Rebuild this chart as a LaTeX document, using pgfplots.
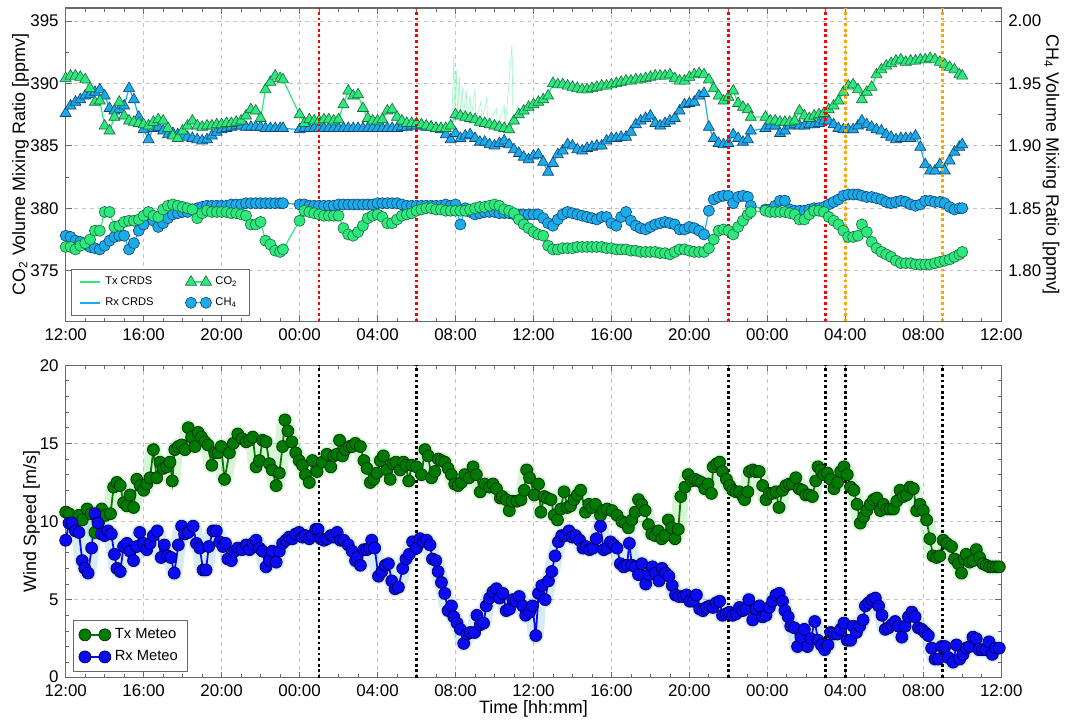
\documentclass[border=0pt]{standalone}
\usepackage{pgfplots}
\pgfplotsset{compat=1.18}
\usepackage{pgfplotstable}
\usepackage{fontspec}
\setmainfont{Liberation Sans}

\definecolor{txfill}{RGB}{45,232,125}
\definecolor{txedge}{RGB}{25,105,60}
\definecolor{rxfill}{RGB}{25,172,232}
\definecolor{rxedge}{RGB}{15,65,115}
\definecolor{mgfill}{RGB}{0,122,0}
\definecolor{mgedge}{RGB}{0,55,0}
\definecolor{mbfill}{RGB}{10,10,245}
\definecolor{mbedge}{RGB}{0,0,100}
\definecolor{noisegreen}{RGB}{120,225,120}
\definecolor{noiseblue}{RGB}{135,195,225}
\definecolor{gridgray}{RGB}{195,195,195}
\definecolor{framegray}{RGB}{105,105,105}
\definecolor{evorange}{RGB}{255,165,0}

% CRDS means, t = hours after 12:00 of day 1
\pgfplotstableread{
t txco2 rxco2 txch4 rxch4
0.00 390.4 387.6 1.819 1.828
0.25 390.6 388.2 1.819 1.827
0.50 390.6 388.5 1.817 1.824
0.75 390.5 388.7 1.820 1.823
1.00 390.3 389.0 1.822 1.821
1.25 389.6 389.1 1.825 1.819
1.50 388.5 389.3 1.832 1.818
1.75 388.6 389.5 1.832 1.817
2.00 386.6 389.0 1.847 1.820
2.25 386.2 388.0 1.847 1.824
2.50 387.3 387.8 1.835 1.827
2.75 388.5 387.9 1.836 1.828
3.00 387.4 388.2 1.839 1.828
3.25 387.0 389.6 1.840 1.817
3.50 386.9 388.7 1.840 1.822
3.75 386.8 387.3 1.841 1.832
4.00 386.7 386.3 1.844 1.837
4.25 386.6 385.5 1.847 1.845
4.50 386.9 386.4 1.844 1.840
4.75 387.1 386.5 1.843 1.835
5.00 387.0 386.2 1.849 1.838
5.25 386.4 385.9 1.852 1.842
5.50 385.8 386.0 1.853 1.845
5.75 385.6 385.9 1.852 1.846
6.00 386.2 385.8 1.851 1.847
6.25 386.6 385.7 1.850 1.847
6.50 387.0 385.6 1.849 1.849
6.75 386.6 385.5 1.842 1.850
7.00 386.5 385.4 1.846 1.851
7.25 386.6 385.5 1.848 1.852
7.50 386.6 385.8 1.847 1.852
7.75 386.7 386.1 1.847 1.852
8.00 386.7 386.3 1.847 1.852
8.25 386.8 386.4 1.847 1.852
8.50 386.8 386.5 1.846 1.853
8.75 386.9 386.6 1.846 1.853
9.00 387.0 386.6 1.845 1.853
9.25 387.4 386.5 1.844 1.854
9.50 387.9 386.5 1.837 1.854
9.75 387.8 386.5 1.837 1.854
10.00 387.2 386.5 1.839 1.854
10.25 389.5 386.4 1.824 1.854
10.50 390.1 386.4 1.821 1.854
10.75 390.6 386.4 1.816 1.854
11.00 390.4 386.4 1.815 1.854
11.15 390.3 386.4 1.817 1.854
12.00 387.5 386.3 1.840 1.853
12.25 386.8 386.4 1.848 1.853
12.50 387.1 386.4 1.847 1.852
12.75 387.0 386.4 1.846 1.852
13.00 387.0 386.4 1.845 1.852
13.25 387.1 386.4 1.844 1.852
13.50 387.1 386.4 1.844 1.852
13.75 387.0 386.4 1.844 1.852
14.00 387.1 386.4 1.844 1.853
14.25 388.3 386.4 1.834 1.853
14.50 389.4 386.4 1.829 1.853
14.75 389.0 386.4 1.828 1.853
15.00 389.1 386.4 1.831 1.853
15.25 388.0 386.4 1.836 1.853
15.50 387.2 386.4 1.842 1.853
15.75 387.0 386.4 1.844 1.853
16.00 387.0 386.4 1.845 1.854
16.25 387.1 386.4 1.843 1.854
16.50 387.8 386.4 1.838 1.854
16.75 387.9 386.4 1.838 1.854
17.00 387.3 386.4 1.841 1.854
17.25 387.0 386.5 1.844 1.853
17.50 386.8 386.5 1.845 1.852
17.75 386.8 386.6 1.846 1.852
18.00 386.8 386.6 1.848 1.852
18.25 386.7 386.6 1.849 1.852
18.50 386.6 386.5 1.850 1.852
18.75 386.5 386.5 1.850 1.852
19.00 386.4 386.4 1.849 1.852
19.25 386.4 386.3 1.849 1.852
19.50 386.4 385.9 1.848 1.853
19.75 386.6 385.5 1.848 1.852
20.00 387.5 386.0 1.848 1.853
20.25 387.4 385.6 1.848 1.837
20.50 387.3 385.8 1.848 1.850
20.75 387.2 385.9 1.849 1.847
21.00 387.1 385.6 1.850 1.845
21.25 386.9 385.3 1.851 1.846
21.50 386.8 385.3 1.851 1.847
21.75 386.7 385.1 1.852 1.847
22.00 386.6 385.0 1.853 1.847
22.25 386.5 385.2 1.852 1.846
22.50 386.4 385.4 1.849 1.846
22.75 386.3 385.1 1.848 1.846
23.00 387.0 384.7 1.846 1.845
23.25 387.5 384.4 1.841 1.845
23.50 387.8 384.1 1.837 1.845
23.75 388.1 383.9 1.834 1.845
24.00 388.3 384.2 1.831 1.845
24.25 388.5 384.3 1.829 1.845
24.50 388.7 383.7 1.828 1.842
24.75 389.0 382.9 1.820 1.838
25.00 390.0 383.6 1.817 1.836
25.25 389.9 384.3 1.817 1.841
25.50 389.9 384.6 1.818 1.845
25.75 389.8 385.1 1.818 1.847
26.00 389.7 385.0 1.818 1.846
26.25 389.6 384.7 1.819 1.845
26.50 389.5 384.6 1.819 1.844
26.75 389.5 384.8 1.819 1.843
27.00 389.6 384.9 1.819 1.842
27.25 389.7 385.0 1.819 1.841
27.50 389.8 385.0 1.819 1.843
27.75 389.8 385.4 1.818 1.843
28.00 389.9 385.6 1.818 1.838
28.25 390.0 385.6 1.817 1.836
28.50 390.1 385.7 1.817 1.843
28.75 390.2 385.7 1.817 1.847
29.00 390.2 386.1 1.816 1.840
29.25 390.3 386.7 1.816 1.836
29.50 390.3 387.0 1.815 1.834
29.75 390.4 387.2 1.815 1.833
30.00 390.5 387.4 1.815 1.835
30.25 390.6 386.8 1.815 1.837
30.50 390.6 386.6 1.814 1.838
30.75 390.6 386.8 1.814 1.839
31.00 390.7 387.0 1.813 1.838
31.25 390.4 387.2 1.815 1.837
31.50 390.2 387.8 1.817 1.833
31.75 390.2 388.3 1.817 1.833
32.00 390.5 388.4 1.816 1.835
32.25 390.7 388.5 1.815 1.834
32.50 390.8 389.0 1.815 1.832
32.75 390.7 389.2 1.815 1.829
33.00 390.3 386.5 1.818 1.848
33.25 389.6 385.6 1.825 1.857
33.50 389.0 385.2 1.832 1.859
33.75 388.6 385.1 1.833 1.860
34.00 388.9 385.2 1.832 1.860
34.25 389.4 385.9 1.829 1.854
34.50 388.4 385.6 1.835 1.859
34.75 388.1 385.3 1.840 1.860
35.00 387.9 385.5 1.845 1.859
35.15 387.3 386.2 1.847 1.852
35.90 387.3 386.4 1.848 1.849
36.15 387.0 386.6 1.847 1.849
36.40 387.0 386.6 1.847 1.852
36.65 386.9 386.0 1.847 1.856
36.90 386.9 386.2 1.847 1.856
37.15 386.9 386.6 1.846 1.849
37.40 387.0 386.7 1.845 1.848
37.65 387.8 386.6 1.841 1.848
37.90 387.4 386.6 1.841 1.848
38.15 387.2 386.7 1.845 1.849
38.40 387.4 386.7 1.848 1.850
38.65 387.5 386.8 1.848 1.850
38.90 387.6 387.0 1.847 1.851
39.15 387.9 387.0 1.843 1.853
39.40 388.2 386.7 1.840 1.855
39.65 388.6 386.4 1.837 1.857
39.90 389.3 386.3 1.832 1.860
40.15 389.8 386.3 1.827 1.861
40.40 389.9 386.3 1.827 1.861
40.65 389.5 386.6 1.828 1.861
40.85 388.7 387.0 1.837 1.860
41.10 389.3 386.7 1.831 1.859
41.35 389.7 386.5 1.823 1.859
41.60 390.7 386.3 1.818 1.858
41.85 391.1 386.2 1.815 1.857
42.10 391.4 385.9 1.813 1.855
42.35 391.6 385.7 1.811 1.854
42.60 391.8 385.5 1.808 1.855
42.85 391.9 385.6 1.806 1.856
43.10 391.7 385.6 1.806 1.855
43.35 391.8 385.6 1.806 1.853
43.60 391.8 385.8 1.805 1.852
43.85 391.9 384.9 1.805 1.853
44.10 391.9 383.5 1.805 1.856
44.35 392.0 383.0 1.805 1.856
44.60 391.9 383.0 1.806 1.855
44.85 391.7 383.5 1.807 1.855
45.10 391.5 383.0 1.808 1.854
45.35 391.3 383.8 1.809 1.851
45.60 391.1 384.5 1.811 1.849
45.85 390.7 384.9 1.813 1.850
46.00 390.6 385.1 1.815 1.850
}\crds

% raw Tx CO2 spikes
\pgfplotstableread{
t co2
19.80 386.4
19.92 392.3
19.96 387.5
20.05 391.0
20.10 387.5
20.20 390.5
20.25 387.4
20.35 389.8
20.40 387.3
20.55 389.5
20.60 387.3
20.75 389.0
20.80 387.2
21.00 389.5
21.05 387.1
21.30 388.5
21.35 386.9
21.60 388.8
21.65 386.7
22.10 388.0
22.15 386.6
22.50 388.2
22.55 386.4
22.90 393.1
22.95 387.0
23.20 388.2
23.30 387.5
}\txraw

\pgfplotstableread{
t ws
0.00 10.6
0.17 10.5
0.35 9.8
0.50 9.5
0.68 10.4
0.85 10.1
1.10 10.8
1.30 10.5
1.50 9.3
1.70 10.0
1.85 10.8
2.05 10.4
2.30 10.5
2.46 12.2
2.63 12.5
2.80 12.3
2.97 11.2
3.14 11.0
3.30 11.7
3.48 10.9
3.65 12.7
3.82 12.3
4.00 12.0
4.16 12.4
4.33 12.8
4.50 14.6
4.67 12.8
4.84 13.8
5.00 13.4
5.18 13.5
5.35 13.8
5.47 12.6
5.60 14.6
5.78 14.8
5.95 14.9
6.12 14.6
6.29 16.0
6.46 15.4
6.63 14.8
6.80 15.7
6.97 15.4
7.14 15.1
7.30 14.9
7.50 13.6
7.65 14.4
7.82 14.4
7.98 14.8
8.15 12.7
8.40 14.4
8.60 15.0
8.83 15.6
9.05 15.3
9.26 15.1
9.43 15.2
9.60 15.4
9.77 13.5
9.94 13.9
10.10 15.2
10.28 15.1
10.45 13.7
10.60 13.3
10.80 12.3
10.96 13.1
11.13 14.8
11.25 16.5
11.40 15.8
11.60 15.1
11.80 14.4
11.98 13.9
12.15 13.6
12.30 13.0
12.50 12.5
12.66 13.9
12.90 13.2
13.17 13.8
13.40 14.3
13.60 13.5
13.75 14.2
13.90 14.3
14.05 15.2
14.20 14.2
14.35 14.6
14.55 14.8
14.70 14.8
14.86 15.0
15.12 14.8
15.30 13.9
15.46 13.4
15.63 12.5
15.80 12.7
15.97 13.1
16.14 13.9
16.30 14.2
16.48 13.3
16.65 12.7
16.78 13.7
16.95 13.8
17.16 13.3
17.33 13.8
17.45 13.6
17.60 12.6
17.75 13.6
18.00 13.5
18.26 13.0
18.43 14.6
18.60 14.2
18.77 12.8
18.94 13.2
19.11 14.0
19.28 13.9
19.45 13.8
19.62 13.4
19.79 13.0
19.96 12.4
20.13 12.3
20.30 12.5
20.47 13.0
20.70 12.8
20.90 13.5
21.07 13.0
21.27 11.9
21.50 12.4
21.75 12.2
21.92 12.4
22.10 12.1
22.30 11.5
22.40 11.6
22.60 11.4
22.76 10.7
22.90 11.3
23.15 11.3
23.36 11.4
23.53 12.0
23.65 13.3
23.80 12.8
24.04 11.7
24.26 12.4
24.38 10.6
24.55 11.6
24.70 11.5
24.90 11.4
25.06 10.4
25.23 10.1
25.40 10.8
25.57 11.9
25.74 10.9
25.90 11.0
26.08 11.4
26.25 11.7
26.42 12.0
26.67 10.6
26.84 11.1
27.00 10.9
27.18 11.1
27.44 10.4
27.60 10.7
27.78 10.8
28.03 10.7
28.29 10.4
28.54 10.0
28.70 9.9
28.87 9.6
29.05 10.1
29.22 10.6
29.39 11.4
29.56 11.1
29.73 10.7
29.90 9.8
30.07 9.2
30.24 9.1
30.41 9.4
30.58 8.9
30.75 9.1
30.92 10.1
31.09 9.6
31.26 8.9
31.43 9.5
31.56 11.6
31.77 12.2
31.94 13.0
32.11 12.6
32.28 12.7
32.45 12.6
32.62 12.5
32.79 12.1
32.96 12.4
33.13 11.8
33.22 13.5
33.40 13.7
33.55 13.8
33.70 13.2
33.90 12.7
34.06 12.3
34.23 12.0
34.40 11.9
34.57 11.9
34.75 11.6
34.83 11.4
35.00 11.9
35.08 13.2
35.25 13.3
35.40 13.2
35.58 13.2
35.76 12.3
35.93 11.4
36.10 11.8
36.27 11.8
36.44 11.9
36.60 10.9
36.78 12.0
36.95 12.3
37.12 12.4
37.29 12.4
37.46 12.8
37.63 12.1
37.80 12.0
37.97 11.7
38.14 11.7
38.31 11.6
38.48 12.6
38.60 13.5
38.74 13.3
38.90 13.0
39.08 13.1
39.25 12.7
39.42 12.1
39.60 12.5
39.76 13.2
39.93 13.5
40.10 13.0
40.27 12.2
40.44 12.0
40.60 11.1
40.77 9.9
40.94 10.3
41.10 10.7
41.28 11.1
41.45 11.4
41.62 11.5
41.80 10.7
41.96 11.1
42.13 10.8
42.30 10.8
42.47 10.8
42.64 11.3
42.81 12.0
42.98 11.6
43.15 11.7
43.32 12.2
43.49 12.1
43.66 10.7
43.83 11.1
44.00 10.7
44.17 10.1
44.34 8.9
44.50 7.8
44.68 7.7
44.85 7.8
45.02 8.8
45.20 8.6
45.45 8.4
45.60 7.6
45.80 7.3
45.96 6.7
46.10 7.6
46.20 7.9
46.38 7.4
46.55 7.5
46.72 8.2
46.89 7.7
47.06 7.3
47.23 7.2
47.40 7.1
47.57 7.1
47.74 7.1
47.90 7.1
}\txmet

\pgfplotstableread{
t ws
0.00 8.8
0.17 9.9
0.33 9.9
0.50 9.4
0.68 9.3
0.85 7.5
0.98 7.0
1.15 6.7
1.33 8.3
1.50 10.5
1.66 9.9
1.83 9.2
2.00 9.1
2.17 9.4
2.34 9.2
2.50 7.9
2.63 7.0
2.80 6.8
2.97 8.4
3.14 8.6
3.30 8.1
3.48 7.5
3.65 8.4
3.80 9.3
4.00 8.6
4.16 8.2
4.33 8.6
4.50 9.1
4.70 9.4
4.90 7.7
5.06 8.5
5.23 7.8
5.40 7.7
5.57 6.7
5.78 8.5
5.95 9.7
6.10 9.2
6.29 9.3
6.54 9.7
6.71 8.6
6.88 8.3
7.05 6.9
7.20 6.9
7.34 8.4
7.56 9.4
7.73 9.4
7.90 8.7
8.07 8.4
8.20 8.6
8.32 7.6
8.50 7.5
8.66 8.1
8.83 8.3
9.04 8.2
9.26 8.5
9.43 8.2
9.60 8.6
9.77 8.8
9.94 8.3
10.10 8.1
10.28 7.1
10.45 7.5
10.60 8.1
10.80 7.4
10.96 8.1
11.13 8.6
11.30 8.8
11.47 9.0
11.64 8.9
11.80 9.2
11.98 9.3
12.15 9.0
12.30 9.1
12.50 8.9
12.66 9.1
12.83 9.5
12.95 9.5
13.08 8.9
13.25 8.8
13.42 8.9
13.60 9.1
13.76 9.0
13.93 9.3
14.10 8.8
14.27 8.8
14.50 8.5
14.70 8.1
14.87 7.5
14.95 7.7
15.12 7.2
15.30 8.2
15.45 8.2
15.60 8.3
15.70 8.8
15.85 8.3
16.05 6.5
16.22 6.8
16.40 7.2
16.56 7.3
16.73 6.2
16.90 5.7
17.07 5.8
17.29 7.0
17.46 7.6
17.63 7.9
17.80 8.7
18.00 8.3
18.18 8.9
18.35 8.7
18.52 8.8
18.69 8.5
18.82 7.6
18.99 7.5
19.11 6.8
19.28 6.1
19.45 5.4
19.62 4.3
19.79 4.6
19.91 3.9
20.08 3.5
20.25 3.1
20.42 2.2
20.59 2.8
20.76 2.9
20.98 2.9
21.10 4.0
21.27 3.4
21.44 3.5
21.58 4.6
21.75 5.1
21.92 5.5
22.10 5.7
22.26 5.1
22.43 5.4
22.60 4.3
22.77 4.4
22.94 5.0
23.10 4.9
23.27 5.2
23.45 4.6
23.60 4.0
23.80 4.2
23.95 4.6
24.12 2.7
24.26 5.4
24.43 5.9
24.60 5.0
24.77 6.2
24.94 6.8
25.11 7.8
25.28 8.7
25.45 9.1
25.62 9.1
25.82 9.4
25.99 9.0
26.16 9.1
26.37 8.8
26.54 8.3
26.70 8.4
26.88 8.2
27.05 8.3
27.22 8.9
27.44 9.7
27.60 8.2
27.78 8.3
27.95 8.7
28.12 8.5
28.29 8.3
28.46 7.3
28.63 7.1
28.80 7.2
28.92 8.6
29.05 7.2
29.22 7.1
29.39 6.6
29.56 7.3
29.76 6.0
29.93 6.6
30.10 7.1
30.27 6.7
30.44 6.2
30.60 7.0
30.78 6.7
30.95 6.5
31.12 5.9
31.29 5.3
31.46 5.2
31.68 5.2
31.85 5.3
32.02 4.9
32.19 4.9
32.36 5.3
32.53 4.4
32.70 4.3
32.87 4.5
33.04 4.6
33.21 4.5
33.38 4.8
33.55 4.9
33.70 4.0
33.90 4.1
34.06 4.2
34.23 4.0
34.40 4.1
34.57 4.5
34.74 4.3
34.91 4.4
35.05 5.0
35.25 3.7
35.42 4.4
35.59 4.6
35.76 3.9
35.93 4.0
36.10 4.5
36.27 4.9
36.44 5.3
36.61 5.4
36.78 4.9
36.90 4.3
37.07 3.9
37.20 3.3
37.38 3.2
37.55 2.0
37.72 2.6
37.90 3.1
38.06 2.0
38.23 2.5
38.43 3.6
38.60 2.4
38.77 2.1
38.94 1.8
39.11 2.1
39.25 2.9
39.42 2.8
39.59 2.8
39.76 3.1
39.93 3.5
40.10 2.4
40.27 2.4
40.40 3.3
40.57 2.9
40.74 3.3
40.91 3.7
41.03 4.6
41.20 4.8
41.37 5.0
41.54 5.1
41.71 4.6
41.88 4.0
42.05 3.1
42.22 3.2
42.39 3.4
42.56 3.6
42.73 3.3
42.90 2.6
43.07 3.3
43.24 3.9
43.41 4.2
43.58 3.9
43.75 3.2
43.92 3.1
44.09 2.9
44.26 2.7
44.43 1.9
44.60 1.2
44.77 1.2
44.94 2.0
45.11 2.0
45.28 1.3
45.53 1.0
45.70 2.1
45.87 1.2
46.04 1.5
46.21 1.9
46.38 2.0
46.55 2.6
46.72 2.5
46.86 1.8
47.03 1.8
47.20 1.8
47.37 2.3
47.54 1.5
47.71 1.9
47.90 1.9
}\rxmet

\pgfplotsset{
  panel/.style={
    scale only axis, width=470pt,
    xmin=0, xmax=48,
    xtick={0,4,...,48},
    xticklabels={12:00,16:00,20:00,00:00,04:00,08:00,12:00,16:00,20:00,00:00,04:00,08:00,12:00},
    minor x tick num=3,
    tick align=inside,
    major tick length=3pt, minor tick length=1.8pt,
    every tick/.style={framegray, line width=0.4pt},
    axis line style={framegray, line width=0.6pt},
    tick label style={font=\fontsize{8.5}{9.5}\selectfont, black},
    label style={font=\fontsize{9}{10.5}\selectfont},
    /pgf/number format/assume math mode=true,
    major grid style={gridgray, dash pattern=on 2pt off 2pt, line width=0.4pt},
  },
  twomark legend/.style={legend image code/.code={
    \draw[##1] plot coordinates {(0pt,0pt) (#1)};}},
  plainline legend/.style={legend image code/.code={
    \draw[##1] (0pt,0pt) -- (10pt,0pt);}},
  txtri/.style={txfill, line width=0.6pt, mark=triangle*, mark size=3.2pt,
    mark options={solid, fill=txfill, draw=txedge, line width=0.3pt}},
  rxtri/.style={rxfill, line width=0.6pt, mark=triangle*, mark size=3.2pt,
    mark options={solid, fill=rxfill, draw=rxedge, line width=0.3pt}},
  txcirc/.style={txfill, line width=0.6pt, mark=*, mark size=2.8pt,
    mark options={solid, fill=txfill, draw=txedge, line width=0.3pt}},
  rxcirc/.style={rxfill, line width=0.6pt, mark=*, mark size=2.8pt,
    mark options={solid, fill=rxfill, draw=rxedge, line width=0.3pt}},
  evline/.style={line width=1.4pt, dash pattern=on 1.4pt off 1.4pt, forget plot},
}

\begin{document}
\begin{tikzpicture}
\path (0pt,0pt) rectangle (533pt,-359pt);

% ---- top panel, CO2 (left axis)
\begin{axis}[panel, at={(33pt,-4pt)}, anchor=north west, height=157.5pt,
  ymin=370.93, ymax=396.04, ytick={375,380,385,390,395}, minor y tick num=1,
  ytick pos=left, grid=major,
  ylabel={CO\textsubscript{2} Volume Mixing Ratio [ppmv]},
  ylabel style={at={(axis description cs:-0.0483,0.5)}, anchor=center},
  legend columns=2,
  legend cell align=left,
  legend style={at={(0.0053,0.019)}, anchor=south west, draw=framegray, fill=white,
    font=\fontsize{5.6}{7}\selectfont, inner xsep=4pt, inner ysep=1.5pt, row sep=1pt,
    /tikz/every even column/.append style={column sep=14pt}},
]
\addlegendimage{plainline legend, txfill, line width=1.2pt}
\addlegendentry{Tx CRDS}
\addlegendimage{twomark legend={7.5pt,0pt}, txtri}
\addlegendentry{CO\textsubscript{2}}
\addlegendimage{plainline legend, rxfill, line width=1.2pt}
\addlegendentry{Rx CRDS}
\addlegendimage{twomark legend={7.5pt,0pt}, rxcirc}
\addlegendentry{CH\textsubscript{4}}

\addplot[txfill!45, line width=0.3pt, forget plot] table[x=t, y=co2] {\txraw};
\addplot[rxtri, forget plot] table[x=t, y=rxco2] {\crds};
\addplot[txtri, forget plot] table[x=t, y=txco2] {\crds};
\end{axis}

% ---- top panel, CH4 (right axis)
\begin{axis}[panel, at={(33pt,-4pt)}, anchor=north west, height=157.5pt,
  ymin=1.7593, ymax=2.0104, ytick={1.80,1.85,1.90,1.95,2.00}, minor y tick num=1,
  axis y line*=right, axis x line=none, tick align=inside,
  yticklabel style={/pgf/number format/fixed, /pgf/number format/fixed zerofill,
    /pgf/number format/precision=2},
  ylabel={CH\textsubscript{4} Volume Mixing Ratio [ppmv]},
  ylabel style={at={(axis description cs:1.0532,0.5)}, anchor=center, rotate=180},
]
\addplot[rxcirc, forget plot] table[x=t, y=rxch4] {\crds};
\addplot[txcirc, forget plot] table[x=t, y=txch4] {\crds};
\addplot[red, evline] coordinates {(13,1.7593) (13,2.0104)};
\addplot[red, evline] coordinates {(18,1.7593) (18,2.0104)};
\addplot[red, evline] coordinates {(34,1.7593) (34,2.0104)};
\addplot[red, evline] coordinates {(39,1.7593) (39,2.0104)};
\addplot[evorange, evline] coordinates {(40,1.7593) (40,2.0104)};
\addplot[evorange, evline] coordinates {(45,1.7593) (45,2.0104)};
\end{axis}

% ---- bottom panel, wind speed
\begin{axis}[panel, at={(33pt,-183.5pt)}, anchor=north west, height=157pt,
  ymin=0, ymax=20, ytick={0,5,10,15,20}, minor y tick num=4, grid=major,
  yticklabels={\raisebox{1.5pt}{0},5,10,15,20},
  ylabel={Wind Speed [m/s]}, xlabel={Time [hh:mm]},
  ylabel style={at={(axis description cs:-0.0365,0.5)}, anchor=center},
  xlabel style={at={(axis description cs:0.5,-0.101)}, anchor=center},
  legend cell align=left,
  legend style={at={(0.0074,0.019)}, anchor=south west, draw=framegray, fill=white,
    font=\fontsize{7.4}{9}\selectfont, inner xsep=3pt, inner ysep=2pt, row sep=0.5pt},
]
\addplot[noisegreen, opacity=0.3, line width=8pt, line join=round, forget plot] table[x=t, y=ws] {\txmet};
\addplot[noiseblue, opacity=0.35, line width=8pt, line join=round, forget plot] table[x=t, y=ws] {\rxmet};
\addplot[twomark legend={10pt,0pt}, mgfill, line width=0.9pt, mark=*, mark size=3pt,
  mark options={solid, fill=mgfill, draw=mgedge, line width=0.4pt}] table[x=t, y=ws] {\txmet};
\addlegendentry{Tx Meteo}
\addplot[twomark legend={10pt,0pt}, mbfill, line width=0.9pt, mark=*, mark size=3pt,
  mark options={solid, fill=mbfill, draw=mbedge, line width=0.4pt}] table[x=t, y=ws] {\rxmet};
\addlegendentry{Rx Meteo}
\addplot[black, evline] coordinates {(13,0) (13,20)};
\addplot[black, evline] coordinates {(18,0) (18,20)};
\addplot[black, evline] coordinates {(34,0) (34,20)};
\addplot[black, evline] coordinates {(39,0) (39,20)};
\addplot[black, evline] coordinates {(40,0) (40,20)};
\addplot[black, evline] coordinates {(45,0) (45,20)};
\end{axis}
\end{tikzpicture}
\end{document}
